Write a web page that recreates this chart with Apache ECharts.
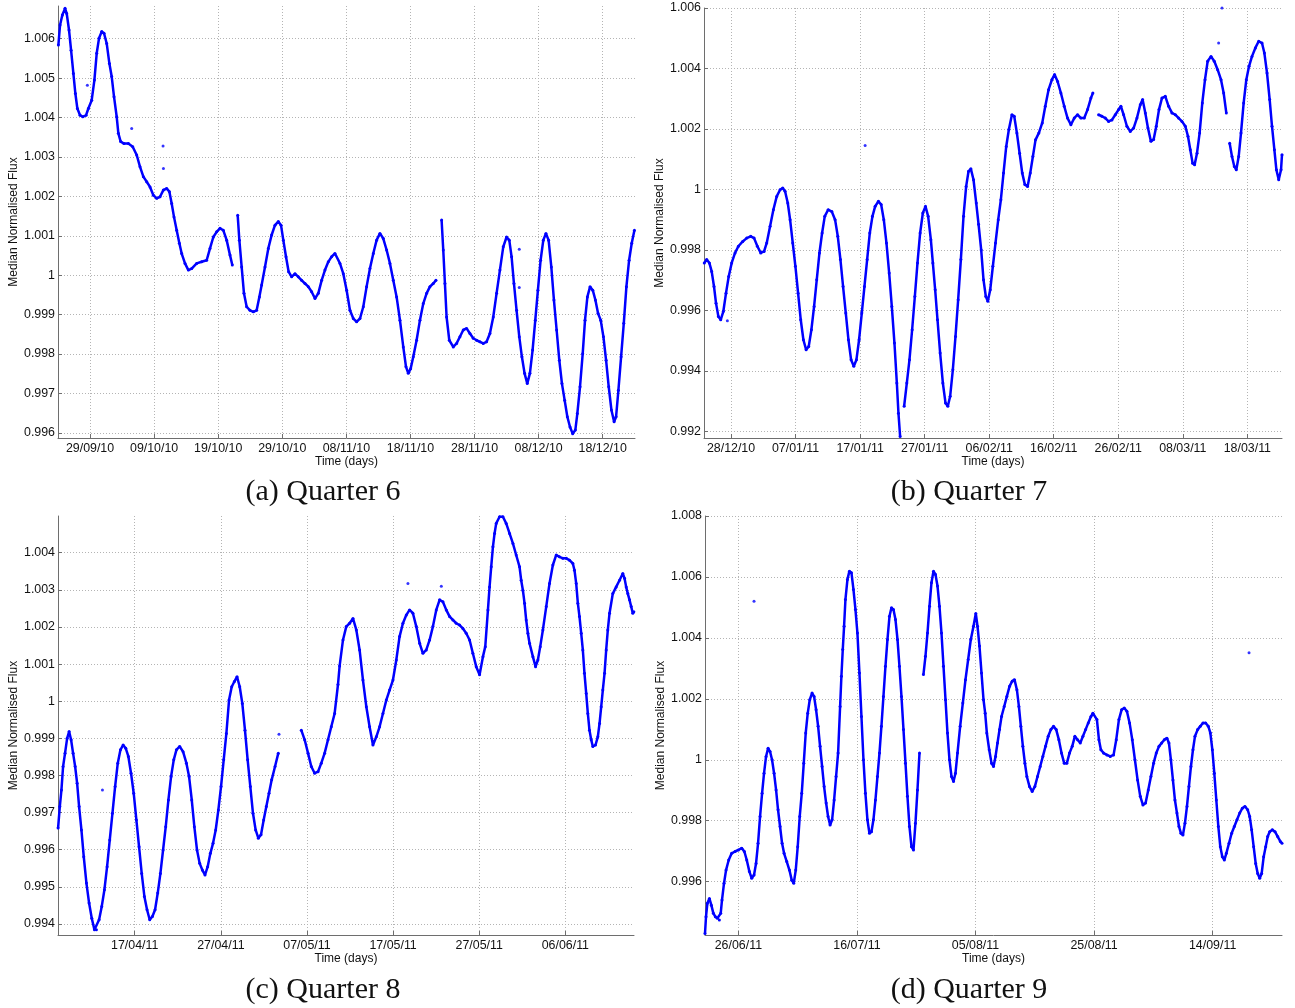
<!DOCTYPE html>
<html>
<head>
<meta charset="utf-8">
<script src="https://cdn.jsdelivr.net/npm/echarts@6/dist/echarts.min.js"></script>
<style>
html,body{margin:0;padding:0;background:#fff;}
#chart{width:1295px;height:1008px;}
</style>
</head>
<body>
<div id="chart"></div>
<script>
// ---------- DATA (days since first tick date, median normalised flux) ----------
const q6TickDays = [0,10,20,30,40,50,60,70,80];
const q6TickLabels = ['29/09/10','09/10/10','19/10/10','29/10/10','08/11/10','18/11/10','28/11/10','08/12/10','18/12/10'];
const q6YTicks = [0.996,0.997,0.998,0.999,1.000,1.001,1.002,1.003,1.004,1.005,1.006];
const q6Points = [[-4.94,1.00584],[-4.68,1.00635],[-4.32,1.0066],[-3.90,1.00677],[-3.64,1.00664],[-3.28,1.00622],[-2.96,1.00571],[-2.60,1.00512],[-2.29,1.00461],[-1.98,1.00423],[-1.56,1.00406],[-1.14,1.00402],[-0.62,1.00406],[-0.26,1.00423],[0.26,1.00444],[0.68,1.00495],[1.04,1.00563],[1.40,1.00601],[1.82,1.00618],[2.18,1.00614],[2.60,1.00588],[3.02,1.00537],[3.38,1.00504],[3.74,1.00453],[4.16,1.00402],[4.42,1.0036],[4.78,1.00339],[5.30,1.00334],[5.98,1.00334],[6.66,1.00326],[7.28,1.00305],[7.80,1.00275],[8.32,1.0025],[8.84,1.00237],[9.36,1.00224],[9.88,1.00203],[10.40,1.00195],[10.92,1.00199],[11.44,1.00216],[11.96,1.0022],[12.38,1.00212],[12.74,1.00182],[13.10,1.00148],[13.52,1.00114],[13.94,1.00081],[14.30,1.00055],[14.82,1.0003],[15.34,1.00013],[15.86,1.00017],[16.64,1.0003],[17.42,1.00034],[18.20,1.00038],[18.72,1.00068],[19.24,1.00097],[19.76,1.0011],[20.28,1.00119],[20.80,1.00114],[21.32,1.00089],[21.84,1.00051],[22.20,1.00026],[22.6,'-'],[23.04,1.00152],[23.30,1.00089],[23.66,1.00021],[24.02,0.99954],[24.44,0.9992],[24.96,0.99911],[25.48,0.99907],[26.00,0.99911],[26.42,0.99945],[26.78,0.99975],[27.30,1.00021],[27.82,1.00068],[28.34,1.00102],[28.86,1.00127],[29.38,1.00136],[29.80,1.00127],[30.16,1.00089],[30.58,1.00047],[30.99,1.00009],[31.46,0.99996],[31.98,1.00004],[32.50,0.99996],[33.02,0.99987],[33.54,0.99979],[34.06,0.99971],[34.58,0.99958],[35.10,0.99941],[35.62,0.99954],[36.14,0.99987],[36.66,1.00013],[37.18,1.00034],[37.70,1.00047],[38.22,1.00055],[39.00,1.0003],[39.52,1.00004],[40.04,0.99962],[40.56,0.99911],[41.08,0.9989],[41.60,0.99882],[42.12,0.9989],[42.64,0.9992],[43.16,0.99971],[43.68,1.00017],[44.20,1.00055],[44.72,1.00089],[45.24,1.00106],[45.76,1.00093],[46.28,1.00064],[46.80,1.0003],[47.32,0.99987],[47.84,0.99945],[48.36,0.99886],[48.88,0.99818],[49.30,0.99768],[49.66,0.99751],[50.03,0.99763],[50.44,0.99793],[50.96,0.99835],[51.48,0.99886],[52.00,0.99928],[52.52,0.99954],[53.04,0.99971],[53.56,0.99979],[53.98,0.99987],[54.4,'-'],[54.86,1.0014],[55.12,1.00064],[55.38,0.99979],[55.64,0.99894],[56.06,0.99835],[56.68,0.99818],[57.20,0.99827],[57.72,0.99844],[58.24,0.99861],[58.76,0.99865],[59.28,0.99852],[59.80,0.9984],[60.32,0.99835],[60.84,0.99831],[61.36,0.99827],[61.88,0.99831],[62.40,0.99852],[62.92,0.99894],[63.44,0.99954],[63.96,1.00013],[64.48,1.00072],[65.00,1.00097],[65.42,1.00089],[65.78,1.00047],[66.15,0.99979],[66.56,0.99911],[66.98,0.99844],[67.39,0.99793],[67.81,0.99751],[68.23,0.99725],[68.64,0.99751],[69.06,0.9981],[69.48,0.99886],[69.89,0.99962],[70.31,1.00038],[70.73,1.00089],[71.14,1.00106],[71.56,1.00089],[71.98,1.00021],[72.39,0.99937],[72.81,0.99861],[73.23,0.99784],[73.64,0.99725],[74.06,0.99683],[74.48,0.99641],[74.90,0.99615],[75.31,0.99598],[75.73,0.99607],[76.04,0.99649],[76.46,0.99717],[76.88,0.99801],[77.24,0.99886],[77.61,0.99945],[78.03,0.99971],[78.45,0.99962],[78.86,0.99937],[79.28,0.99903],[79.69,0.99886],[80.11,0.99844],[80.53,0.99784],[80.94,0.99717],[81.36,0.99658],[81.78,0.99628],[82.09,0.99641],[82.45,0.99708],[82.87,0.99793],[83.29,0.99878],[83.70,0.99971],[84.12,1.00038],[84.53,1.00081],[84.95,1.00114]];
const q6Outliers = [[11.39,1.00328],[11.45,1.00271],[-0.42,1.00482],[6.5,1.00372],[66.98,1.00066],[66.98,0.99969]];

const q7TickDays = [0,10,20,30,40,50,60,70,80];
const q7TickLabels = ['28/12/10','07/01/11','17/01/11','27/01/11','06/02/11','16/02/11','26/02/11','08/03/11','18/03/11'];
const q7YTicks = [0.992,0.994,0.996,0.998,1.000,1.002,1.004,1.006];
const q7Points = [[-4.15,0.99757],[-3.77,0.99768],[-3.36,0.99757],[-3.00,0.99729],[-2.64,0.99679],[-2.33,0.99624],[-1.96,0.9958],[-1.60,0.99569],[-1.19,0.99597],[-0.78,0.99657],[-0.36,0.99712],[0.10,0.99757],[0.62,0.9979],[1.14,0.99812],[1.81,0.99828],[2.43,0.99839],[3.05,0.99845],[3.57,0.99839],[4.08,0.99812],[4.60,0.9979],[5.12,0.99795],[5.53,0.99823],[6.05,0.99878],[6.56,0.99933],[7.08,0.99977],[7.60,0.99999],[8.01,1.00005],[8.37,0.99994],[8.79,0.99955],[9.15,0.999],[9.56,0.99823],[9.97,0.99746],[10.39,0.99657],[10.80,0.99569],[11.21,0.99503],[11.63,0.9947],[12.04,0.99481],[12.45,0.99536],[12.87,0.99613],[13.28,0.99701],[13.70,0.9979],[14.11,0.99856],[14.52,0.99911],[15.04,0.99933],[15.61,0.99927],[16.12,0.999],[16.54,0.99845],[16.95,0.99768],[17.36,0.99679],[17.78,0.99591],[18.19,0.99503],[18.60,0.99437],[19.02,0.99415],[19.43,0.99437],[19.84,0.99503],[20.26,0.99591],[20.67,0.99679],[21.09,0.99768],[21.50,0.99856],[21.91,0.99911],[22.33,0.99944],[22.84,0.99961],[23.26,0.9995],[23.67,0.999],[24.08,0.99823],[24.50,0.99724],[24.91,0.99613],[25.32,0.99492],[25.69,0.9936],[25.94,0.9926],[26.20,0.99183],[26.5,'-'],[26.82,0.99283],[27.24,0.9936],[27.65,0.99437],[28.06,0.99536],[28.48,0.99646],[28.89,0.99757],[29.30,0.99856],[29.72,0.99922],[30.13,0.99944],[30.54,0.99911],[30.96,0.99834],[31.27,0.99757],[31.63,0.99668],[31.99,0.99569],[32.40,0.99459],[32.82,0.9936],[33.23,0.99294],[33.59,0.99283],[33.95,0.99316],[34.37,0.99404],[34.78,0.99514],[35.19,0.99635],[35.61,0.99768],[36.02,0.99911],[36.43,1.0001],[36.80,1.0006],[37.16,1.00068],[37.57,1.00032],[37.99,0.99955],[38.35,0.99885],[38.76,0.998],[39.12,0.99701],[39.48,0.99646],[39.79,0.9963],[40.16,0.99668],[40.57,0.99746],[40.98,0.99823],[41.40,0.999],[41.81,0.99966],[42.22,1.00054],[42.64,1.00142],[43.05,1.00198],[43.52,1.00247],[43.88,1.00242],[44.29,1.00187],[44.71,1.0012],[45.12,1.00054],[45.53,1.00016],[45.95,1.0001],[46.36,1.00054],[46.77,1.00109],[47.18,1.00164],[47.70,1.00187],[48.22,1.0022],[48.69,1.00275],[49.20,1.0033],[49.72,1.00363],[50.13,1.0038],[50.60,1.00357],[51.11,1.00319],[51.63,1.00275],[52.14,1.00236],[52.66,1.00214],[53.18,1.00236],[53.69,1.00247],[54.21,1.00236],[54.73,1.00236],[55.24,1.00264],[55.76,1.00302],[56.07,1.00319],[56.5,'-'],[56.95,1.00247],[57.47,1.00242],[57.99,1.00236],[58.50,1.00225],[59.02,1.0023],[59.54,1.00247],[60.05,1.00264],[60.41,1.00275],[60.83,1.00247],[61.34,1.00209],[61.86,1.00192],[62.38,1.00203],[62.89,1.00236],[63.41,1.0028],[63.77,1.00297],[64.19,1.00253],[64.60,1.00203],[65.06,1.00159],[65.48,1.00165],[65.89,1.00209],[66.31,1.00264],[66.77,1.00302],[67.29,1.00308],[67.80,1.00275],[68.32,1.00253],[68.84,1.00247],[69.35,1.00236],[69.87,1.00225],[70.39,1.00209],[70.80,1.00176],[71.16,1.00131],[71.52,1.00087],[71.83,1.00082],[72.20,1.0012],[72.61,1.00187],[73.02,1.00286],[73.44,1.00363],[73.85,1.00424],[74.37,1.0044],[74.88,1.00424],[75.40,1.00396],[75.92,1.00363],[76.33,1.00319],[76.74,1.00253],[77.0,'-'],[77.26,1.00153],[77.62,1.00109],[77.98,1.00076],[78.29,1.00065],[78.66,1.00109],[79.02,1.00187],[79.43,1.00286],[79.84,1.00363],[80.26,1.00407],[80.72,1.0044],[81.24,1.00468],[81.76,1.0049],[82.27,1.00484],[82.64,1.00451],[83.05,1.00385],[83.46,1.00297],[83.82,1.00209],[84.19,1.00131],[84.50,1.00065],[84.86,1.00032],[85.22,1.00065],[85.37,1.00115]];
const q7Outliers = [[20.78,1.00145],[76.07,1.006],[-0.57,0.99566],[75.55,1.00484]];

const q8TickDays = [0,10,20,30,40,50];
const q8TickLabels = ['17/04/11','27/04/11','07/05/11','17/05/11','27/05/11','06/06/11'];
const q8YTicks = [0.994,0.995,0.996,0.997,0.998,0.999,1.000,1.001,1.002,1.003,1.004];
const q8Points = [[-8.90,0.99658],[-8.70,0.99716],[-8.51,0.99761],[-8.32,0.99824],[-8.09,0.9986],[-7.85,0.999],[-7.62,0.99918],[-7.39,0.99896],[-7.16,0.9986],[-6.92,0.99824],[-6.69,0.99779],[-6.46,0.99716],[-6.19,0.99653],[-5.92,0.99581],[-5.61,0.9951],[-5.30,0.99456],[-4.99,0.99415],[-4.68,0.99384],[-4.45,0.99384],[-4.14,0.99411],[-3.83,0.99447],[-3.52,0.99492],[-3.21,0.99554],[-2.90,0.99626],[-2.59,0.99698],[-2.28,0.9977],[-1.97,0.99833],[-1.66,0.99869],[-1.35,0.99882],[-1.04,0.99873],[-0.74,0.99851],[-0.43,0.99806],[-0.12,0.99752],[0.19,0.9968],[0.50,0.99608],[0.81,0.99536],[1.12,0.99474],[1.43,0.99438],[1.74,0.99411],[2.05,0.9942],[2.36,0.99438],[2.67,0.99483],[2.98,0.99536],[3.29,0.99599],[3.60,0.99662],[3.91,0.99734],[4.22,0.99797],[4.53,0.99842],[4.84,0.99869],[5.22,0.99878],[5.61,0.99864],[6.00,0.99833],[6.31,0.99797],[6.62,0.99734],[6.92,0.99662],[7.23,0.99599],[7.54,0.99563],[7.85,0.99545],[8.16,0.99532],[8.47,0.99554],[8.78,0.9959],[9.09,0.99617],[9.40,0.99653],[9.71,0.99707],[10.02,0.9977],[10.33,0.99842],[10.64,0.99913],[10.95,1.00003],[11.26,1.00039],[11.57,1.00053],[11.88,1.00066],[12.19,1.00039],[12.49,0.99994],[12.80,0.99922],[13.11,0.99842],[13.42,0.9977],[13.73,0.99698],[14.04,0.99653],[14.35,0.99631],[14.66,0.9964],[14.97,0.9968],[15.28,0.99716],[15.59,0.99752],[15.90,0.99788],[16.29,0.99824],[16.67,0.9986],[18.0,'-'],[19.34,0.99922],[19.73,0.99896],[20.12,0.9986],[20.50,0.99824],[20.89,0.99806],[21.28,0.9981],[21.66,0.99833],[22.05,0.9986],[22.44,0.99896],[22.82,0.99931],[23.21,0.99967],[23.60,1.00045],[23.79,1.00095],[24.18,1.00165],[24.56,1.00201],[24.95,1.0021],[25.34,1.00223],[25.73,1.00192],[26.11,1.00138],[26.50,1.00057],[26.89,0.99985],[27.27,0.99931],[27.66,0.99882],[28.05,0.99904],[28.43,0.99931],[28.82,0.99967],[29.21,1.00003],[29.59,1.0003],[29.98,1.00057],[30.37,1.00111],[30.75,1.00174],[31.14,1.0021],[31.53,1.00232],[31.91,1.00246],[32.30,1.00237],[32.69,1.00201],[33.08,1.00156],[33.46,1.00129],[33.85,1.00138],[34.24,1.00165],[34.62,1.00201],[35.01,1.00246],[35.40,1.00273],[35.78,1.00268],[36.17,1.00246],[36.56,1.00228],[36.94,1.00219],[37.33,1.0021],[37.72,1.00205],[38.10,1.00196],[38.49,1.00183],[38.88,1.00165],[39.26,1.00129],[39.65,1.00093],[40.04,1.00071],[40.43,1.0012],[40.70,1.00147],[41.01,1.00246],[41.20,1.00308],[41.39,1.00362],[41.59,1.00416],[41.78,1.00452],[41.97,1.00479],[42.36,1.00497],[42.75,1.00497],[43.13,1.00479],[43.52,1.00452],[43.91,1.00425],[44.29,1.00394],[44.68,1.00362],[44.87,1.00326],[45.07,1.00299],[45.26,1.00264],[45.45,1.00219],[45.65,1.00183],[45.84,1.00156],[46.23,1.0012],[46.54,1.00093],[46.81,1.00111],[47.08,1.00147],[47.39,1.00192],[47.78,1.00255],[48.16,1.00317],[48.55,1.00367],[48.94,1.00394],[49.32,1.00389],[49.71,1.00385],[50.10,1.00385],[50.48,1.0038],[50.87,1.00371],[51.06,1.00353],[51.26,1.00317],[51.45,1.00264],[51.64,1.00228],[51.84,1.00183],[52.03,1.00138],[52.22,1.00075],[52.42,1.00021],[52.61,0.99967],[52.80,0.99922],[53.00,0.99896],[53.19,0.99878],[53.50,0.99882],[53.77,0.99904],[53.97,0.9994],[54.16,0.99985],[54.35,1.0003],[54.55,1.00075],[54.74,1.00138],[54.93,1.00192],[55.13,1.00237],[55.51,1.0029],[55.90,1.00308],[56.29,1.00326],[56.67,1.00344],[56.87,1.00331],[57.06,1.00308],[57.25,1.0029],[57.45,1.00273],[57.64,1.00255],[57.83,1.00237],[57.95,1.00241]];
const q8Outliers = [[-3.75,0.99761],[16.75,0.99911],[31.72,1.00317],[35.6,1.0031]];

const q9TickDays = [0,20,40,60,80];
const q9TickLabels = ['26/06/11','16/07/11','05/08/11','25/08/11','14/09/11'];
const q9YTicks = [0.996,0.998,1.000,1.002,1.004,1.006,1.008];
const q9Points = [[-5.63,0.9943],[-5.46,0.99485],[-5.23,0.99529],[-4.89,0.99545],[-4.56,0.99523],[-4.22,0.99496],[-3.88,0.99485],[-3.54,0.9948],[-3.21,0.99474],[-2.98,0.99496],[-2.76,0.9954],[-2.42,0.99595],[-2.08,0.99638],[-1.63,0.99671],[-1.13,0.99693],[-0.56,0.99699],[0.00,0.99704],[0.56,0.9971],[1.01,0.99699],[1.41,0.99671],[1.86,0.99633],[2.25,0.99611],[2.64,0.99622],[2.98,0.9966],[3.32,0.99726],[3.66,0.99814],[4.00,0.9989],[4.33,0.99956],[4.67,1.00011],[5.01,1.00038],[5.34,1.00027],[5.68,1.0],[6.02,0.99956],[6.36,0.99901],[6.69,0.99836],[7.03,0.99781],[7.37,0.99726],[7.71,0.99693],[8.16,0.99666],[8.61,0.99638],[9.00,0.99605],[9.34,0.99595],[9.68,0.99638],[10.01,0.99715],[10.35,0.99814],[10.69,0.9989],[11.03,0.99989],[11.36,1.00088],[11.70,1.00153],[12.04,1.00197],[12.43,1.00219],[12.77,1.00208],[13.11,1.00164],[13.45,1.0011],[13.78,1.00044],[14.12,0.99978],[14.46,0.99912],[14.80,0.99858],[15.13,0.99814],[15.47,0.99786],[15.81,0.99803],[16.15,0.99868],[16.48,0.99945],[16.82,1.00022],[17.16,1.00175],[17.38,1.00274],[17.61,1.00362],[17.83,1.00438],[18.06,1.00526],[18.40,1.00592],[18.73,1.00619],[19.07,1.00614],[19.41,1.00559],[19.75,1.00493],[20.08,1.00416],[20.42,1.00285],[20.76,1.00142],[21.10,1.0],[21.43,0.9989],[21.77,0.99803],[22.11,0.99759],[22.45,0.99764],[22.78,0.99803],[23.12,0.99868],[23.46,0.99945],[23.80,1.00022],[24.13,1.0011],[24.47,1.00208],[24.81,1.00307],[25.15,1.00395],[25.49,1.00471],[25.82,1.00499],[26.16,1.00493],[26.50,1.0046],[26.84,1.00395],[27.17,1.00307],[27.51,1.00208],[27.85,1.00099],[28.19,0.99989],[28.52,0.9988],[28.86,0.99781],[29.20,0.99715],[29.54,0.99704],[29.87,0.99792],[30.21,0.99901],[30.55,1.00022],[30.9,'-'],[31.22,1.0028],[31.56,1.0034],[31.90,1.00416],[32.24,1.00504],[32.57,1.00581],[32.91,1.00619],[33.25,1.00608],[33.59,1.0057],[33.92,1.00504],[34.26,1.00416],[34.60,1.00307],[34.94,1.00197],[35.27,1.00088],[35.61,1.0],[35.95,0.99945],[36.29,0.99929],[36.62,0.99956],[36.96,1.00022],[37.41,1.0011],[37.86,1.00186],[38.31,1.00263],[38.76,1.00329],[39.21,1.00395],[39.66,1.00438],[40.05,1.0048],[40.34,1.00438],[40.67,1.00373],[41.01,1.00285],[41.35,1.00197],[41.63,1.00153],[41.91,1.00088],[42.31,1.00033],[42.70,0.99989],[43.04,0.99978],[43.38,1.00011],[43.71,1.00055],[44.05,1.00099],[44.39,1.00142],[44.84,1.00175],[45.29,1.00208],[45.74,1.00241],[46.19,1.00258],[46.58,1.00263],[46.98,1.0023],[47.32,1.00175],[47.65,1.0011],[47.99,1.00044],[48.33,0.99989],[48.66,0.99945],[49.11,0.99912],[49.56,0.99896],[50.01,0.99912],[50.46,0.99945],[50.91,0.99978],[51.36,1.00011],[51.81,1.00044],[52.26,1.00077],[52.71,1.00099],[53.16,1.0011],[53.61,1.00099],[54.06,1.00066],[54.51,1.00022],[54.96,0.99989],[55.41,0.99989],[55.86,1.00022],[56.31,1.00044],[56.76,1.00077],[57.22,1.00066],[57.67,1.00055],[58.12,1.00077],[58.57,1.00099],[59.02,1.00121],[59.47,1.00142],[59.80,1.00153],[60.48,1.00132],[60.82,1.00066],[61.15,1.00033],[61.60,1.00022],[62.17,1.00016],[62.73,1.00011],[63.29,1.00016],[63.74,1.00066],[64.19,1.00132],[64.64,1.00164],[65.09,1.0017],[65.54,1.00159],[65.99,1.00121],[66.44,1.00066],[66.89,1.0],[67.34,0.99934],[67.79,0.9988],[68.24,0.99852],[68.69,0.99858],[69.14,0.99901],[69.59,0.99945],[70.04,0.99989],[70.49,1.00022],[70.95,1.00044],[71.40,1.00055],[71.85,1.00066],[72.29,1.00071],[72.63,1.00055],[72.96,1.0],[73.30,0.99934],[73.64,0.99868],[73.98,0.99825],[74.32,0.99781],[74.65,0.99759],[74.99,0.99753],[75.33,0.99792],[75.67,0.99847],[76.00,0.99912],[76.34,0.99978],[76.68,1.00033],[77.02,1.00077],[77.47,1.00099],[77.92,1.0011],[78.37,1.00121],[78.82,1.00121],[79.27,1.0011],[79.61,1.00088],[79.95,1.00033],[80.28,0.99956],[80.62,0.99868],[80.96,0.99781],[81.29,0.99715],[81.63,0.99682],[81.97,0.99671],[82.31,0.99693],[82.76,0.99726],[83.21,0.99759],[83.66,0.99781],[84.11,0.99803],[84.56,0.99825],[85.01,0.99841],[85.46,0.99847],[85.91,0.99836],[86.25,0.99814],[86.58,0.9977],[86.92,0.99715],[87.26,0.9966],[87.60,0.99627],[87.94,0.99611],[88.27,0.99627],[88.61,0.99682],[88.95,0.99715],[89.29,0.99748],[89.62,0.99764],[90.07,0.9977],[90.52,0.99764],[90.97,0.99748],[91.42,0.99732],[91.70,0.99726]];
const q9Outliers = [[2.64,1.0052],[86.14,1.00351]];

const captions = ['(a) Quarter 6','(b) Quarter 7','(c) Quarter 8','(d) Quarter 9'];

// ---------- LAYOUT ----------
const panels = [
  {pts:q6Points, out:q6Outliers, xt:q6TickDays, xl:q6TickLabels, yt:q6YTicks, xr:[-5.0,85.04], yr:[0.99587,1.00683], g:{left:58,top:6,width:577,height:432}, cap:[323,492]},
  {pts:q7Points, out:q7Outliers, xt:q7TickDays, xl:q7TickLabels, yt:q7YTicks, xr:[-4.19,85.37], yr:[0.99178,1.006], g:{left:704,top:8,width:578,height:430}, cap:[969,492]},
  {pts:q8Points, out:q8Outliers, xt:q8TickDays, xl:q8TickLabels, yt:q8YTicks, xr:[-8.91,57.97], yr:[0.99370,1.00499], g:{left:58,top:516,width:576,height:419}, cap:[323,990]},
  {pts:q9Points, out:q9Outliers, xt:q9TickDays, xl:q9TickLabels, yt:q9YTicks, xr:[-5.63,91.70], yr:[0.99425,1.008], g:{left:705,top:516,width:577,height:419}, cap:[969,990]}
];

const font = 'Liberation Sans, Arial, Helvetica, sans-serif';
const axisCol = '#6e6e6e';
const gridCol = '#b4b4b4';

const option = {
  animation:false,
  backgroundColor:'#ffffff',
  grid:[], xAxis:[], yAxis:[], series:[],
  graphic:[]
};

panels.forEach((p,i)=>{
  option.grid.push(Object.assign({containLabel:false}, p.g));
  option.xAxis.push({
    type:'value', gridIndex:i, min:p.xr[0], max:p.xr[1],
    name:'Time (days)', nameLocation:'middle', nameGap:16,
    nameTextStyle:{fontFamily:font, fontSize:12, color:'#111'},
    axisLine:{show:true, onZero:false, lineStyle:{color:axisCol, width:1}},
    axisTick:{show:true, inside:true, length:4, customValues:p.xt, lineStyle:{color:axisCol}},
    axisLabel:{show:true, customValues:p.xt, margin:5, fontFamily:font, fontSize:12.4, color:'#111',
      formatter:(v)=>{ const k=p.xt.findIndex(t=>Math.abs(t-v)<1e-6); return k>=0?p.xl[k]:''; }},
    splitLine:{show:true, lineStyle:{color:gridCol, type:[1,2], width:1}}
  });
  option.yAxis.push({
    type:'value', gridIndex:i, min:p.yr[0], max:p.yr[1],
    name:'Median Normalised Flux', nameLocation:'middle', nameGap:37, nameRotate:90,
    nameTextStyle:{fontFamily:font, fontSize:12, color:'#111'},
    axisLine:{show:true, onZero:false, lineStyle:{color:axisCol, width:1}},
    axisTick:{show:true, inside:true, length:4, customValues:p.yt, lineStyle:{color:axisCol}},
    axisLabel:{show:true, customValues:p.yt, margin:3, fontFamily:font, fontSize:12.4, color:'#111',
      formatter:(v)=>String(parseFloat(Number(v).toFixed(3)))},
    splitLine:{show:true, lineStyle:{color:gridCol, type:[1,2], width:1}}
  });
  option.series.push({
    type:'line', xAxisIndex:i, yAxisIndex:i, data:p.pts,
    showSymbol:true, symbol:'circle', symbolSize:3, connectNulls:false,
    itemStyle:{color:'#0000ff'}, lineStyle:{color:'#0000ff', width:2.5},
    clip:true, silent:true
  });
  option.series.push({
    type:'scatter', xAxisIndex:i, yAxisIndex:i, data:p.out,
    symbol:'circle', symbolSize:3, itemStyle:{color:'#0000ff'}, silent:true
  });
  option.graphic.push({
    type:'text', x:p.cap[0], y:p.cap[1],
    style:{text:captions[i], align:'center', verticalAlign:'middle',
      font:'30px "Liberation Serif", "DejaVu Serif", serif', fill:'#111'}
  });
});

const chart = echarts.init(document.getElementById('chart'), null, {renderer:'canvas'});
chart.setOption(option);
</script>
</body>
</html>
